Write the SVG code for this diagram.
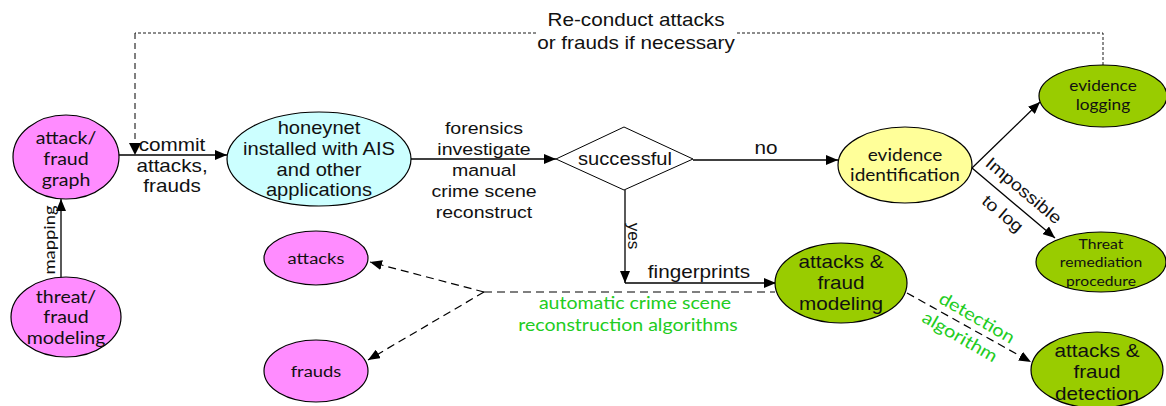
<svg xmlns="http://www.w3.org/2000/svg" width="1166" height="406" viewBox="0 0 1166 406">
  <style>
    .node { stroke: #000; stroke-width: 1.2; }
    .pink { fill: #ff8cff; }
    .cyan { fill: #ccffff; }
    .yellow { fill: #ffff99; }
    .green { fill: #99cc00; }
    .t { font-family: "Liberation Sans", Arial, sans-serif; font-size: 17px; fill: #111; text-anchor: middle; }
    .c { font-family: Lato, "Open Sans", sans-serif; font-size: 17px; fill: #111; text-anchor: middle; }
    .g { font-family: Lato, "Open Sans", sans-serif; font-size: 17.5px; fill: #22cc22; text-anchor: middle; }
    .line { fill: none; stroke: #000; stroke-width: 1.3; }
    .dash { fill: none; stroke: #000; stroke-width: 1.2; stroke-dasharray: 8 5; }
    .fine { fill: none; stroke: #000; stroke-width: 0.9; stroke-dasharray: 3 2; }
    .loose { fill: none; stroke: #000; stroke-width: 1; stroke-dasharray: 6 4; }
  </style>
  <defs>
    <marker id="arrow" viewBox="0 0 12 10" refX="12" refY="5" markerWidth="12" markerHeight="10" markerUnits="userSpaceOnUse" orient="auto">
      <path d="M0,0 L12,5 L0,10 Z" fill="#000"/>
    </marker>
  </defs>

  <!-- connectors -->
  <g id="connectors">
    <!-- re-conduct loop -->
    <path class="fine" d="M1103,65 L1103,33 L736,33 M536,33 L135,33" />
    <path class="loose" d="M135,33 L135,143" />
    <path d="M129,143 L141,143 L135,155 Z" fill="#000"/>
    <text class="t" transform="translate(636,26) scale(1.15,1)" style="font-size:18px">Re-conduct attacks</text>
    <text class="t" transform="translate(636,49) scale(1.15,1)" style="font-size:18px">or frauds if necessary</text>

    <!-- mapping -->
    <path class="line" d="M61,278 L61,199" marker-end="url(#arrow)"/>
    <text class="c" transform="translate(55,240) rotate(-90) scale(1.15,1)" style="font-size:16px">mapping</text>

    <!-- commit -->
    <path class="line" d="M119,155 L227,155" marker-end="url(#arrow)"/>
    <text class="t" transform="translate(172,151) scale(1.15,1)" style="font-size:18px">commit</text>
    <text class="t" transform="translate(172,172) scale(1.15,1)" style="font-size:18px">attacks,</text>
    <text class="t" transform="translate(172,192) scale(1.15,1)" style="font-size:18px">frauds</text>

    <!-- honeynet to decision -->
    <path class="line" d="M411,159 L556,159" marker-end="url(#arrow)"/>
    <text class="t" transform="translate(484,134) scale(1.15,1)">forensics</text>
    <text class="t" transform="translate(484,155) scale(1.15,1)">investigate</text>
    <text class="t" transform="translate(484,176) scale(1.15,1)">manual</text>
    <text class="t" transform="translate(484,197) scale(1.15,1)">crime scene</text>
    <text class="t" transform="translate(484,218) scale(1.15,1)">reconstruct</text>

    <!-- no -->
    <path class="line" d="M693,160 L838,160" marker-end="url(#arrow)"/>
    <text class="t" transform="translate(766,154) scale(1.15,1)" style="font-size:18px">no</text>

    <!-- yes -->
    <path class="line" d="M625,190 L625,283" marker-end="url(#arrow)"/>
    <text class="t" transform="translate(628,236) rotate(90)">yes</text>

    <!-- fingerprints -->
    <path class="line" d="M625,283 L776,283" marker-end="url(#arrow)"/>
    <text class="t" transform="translate(699,278) scale(1.15,1)" style="font-size:18px">fingerprints</text>

    <!-- automatic reconstruction -->
    <path d="M484,292 L775,292" fill="none" stroke="#555" stroke-width="1.3" stroke-dasharray="8 5"/>
    <path class="dash" d="M484,292 L370,262" marker-end="url(#arrow)"/>
    <path class="dash" d="M484,292 L368,360" marker-end="url(#arrow)"/>
    <text class="g" transform="translate(635,309) scale(1.15,1)" style="font-size:17px">automatic crime scene</text>
    <text class="g" transform="translate(628,331) scale(1.15,1)" style="font-size:17px">reconstruction algorithms</text>

    <!-- evidence identification branches -->
    <path class="line" d="M972,168 L1040,102" marker-end="url(#arrow)"/>
    <path class="line" d="M972,168 L1055,238" marker-end="url(#arrow)"/>
    <text class="t" transform="translate(1020,195) rotate(40) scale(1.15,1)">Impossible</text>
    <text class="t" transform="translate(999,218) rotate(40) scale(1.15,1)">to log</text>

    <!-- detection algorithm -->
    <path class="dash" d="M907,293 L1031,362" marker-end="url(#arrow)"/>
    <text class="g" transform="translate(974,323) rotate(30) scale(1.15,1)">detection</text>
    <text class="g" transform="translate(957,342) rotate(30) scale(1.15,1)">algorithm</text>
  </g>

  <!-- nodes -->
  <g id="attack-fraud-graph">
    <ellipse class="node pink" cx="66" cy="157" rx="53" ry="42"/>
    <text class="c" transform="translate(66,144) scale(1.15,1)">attack/</text>
    <text class="c" transform="translate(66,165) scale(1.15,1)">fraud</text>
    <text class="c" transform="translate(66,186) scale(1.15,1)">graph</text>
  </g>

  <g id="threat-fraud-modeling">
    <ellipse class="node pink" cx="66" cy="317" rx="55" ry="40"/>
    <text class="c" transform="translate(66,303) scale(1.15,1)">threat/</text>
    <text class="c" transform="translate(66,323) scale(1.15,1)">fraud</text>
    <text class="c" transform="translate(66,344) scale(1.15,1)">modeling</text>
  </g>

  <g id="honeynet">
    <ellipse class="node cyan" cx="319" cy="159" rx="92" ry="47"/>
    <text class="t" transform="translate(319,134) scale(1.15,1)" style="font-size:17.5px">honeynet</text>
    <text class="t" transform="translate(319,155) scale(1.15,1)" style="font-size:17.5px">installed with AIS</text>
    <text class="t" transform="translate(319,176) scale(1.15,1)" style="font-size:17.5px">and other</text>
    <text class="t" transform="translate(319,196) scale(1.15,1)" style="font-size:17.5px">applications</text>
  </g>

  <g id="successful">
    <polygon points="556,159 624,127 693,159 624,190" fill="#fff" stroke="#000" stroke-width="1"/>
    <text class="t" transform="translate(625,165) scale(1.15,1)" style="font-size:17.5px">successful</text>
  </g>

  <g id="evidence-identification">
    <ellipse class="node yellow" cx="905" cy="165" rx="67" ry="38"/>
    <text class="c" transform="translate(905,161) scale(1.12,1)">evidence</text>
    <text class="c" transform="translate(905,181) scale(1.12,1)">identification</text>
  </g>

  <g id="evidence-logging">
    <ellipse class="node green" cx="1103" cy="96" rx="64" ry="31"/>
    <text class="c" transform="translate(1103,91) scale(1.15,1)" style="font-size:15px">evidence</text>
    <text class="c" transform="translate(1103,110) scale(1.15,1)" style="font-size:15px">logging</text>
  </g>

  <g id="threat-remediation">
    <ellipse class="node green" cx="1101" cy="262" rx="65" ry="30"/>
    <text class="c" transform="translate(1101,249) scale(1.12,1)" style="font-size:14px">Threat</text>
    <text class="c" transform="translate(1101,267) scale(1.12,1)" style="font-size:14px">remediation</text>
    <text class="c" transform="translate(1101,286) scale(1.12,1)" style="font-size:14px">procedure</text>
  </g>

  <g id="attacks">
    <ellipse class="node pink" cx="316" cy="258" rx="52" ry="27"/>
    <text class="c" transform="translate(316,264) scale(1.15,1)" style="font-size:16px">attacks</text>
  </g>

  <g id="frauds">
    <ellipse class="node pink" cx="316" cy="371" rx="52" ry="31"/>
    <text class="c" transform="translate(316,377) scale(1.15,1)" style="font-size:16px">frauds</text>
  </g>

  <g id="attacks-fraud-modeling">
    <ellipse class="node green" cx="841" cy="283" rx="66" ry="40"/>
    <text class="t" transform="translate(841,268) scale(1.15,1)" style="font-size:18px">attacks &amp;</text>
    <text class="t" transform="translate(841,289) scale(1.15,1)" style="font-size:18px">fraud</text>
    <text class="t" transform="translate(841,310) scale(1.15,1)" style="font-size:18px">modeling</text>
  </g>

  <g id="attacks-fraud-detection">
    <ellipse class="node green" cx="1097" cy="370" rx="66" ry="38"/>
    <text class="t" transform="translate(1097,357) scale(1.15,1)" style="font-size:18px">attacks &amp;</text>
    <text class="t" transform="translate(1097,378) scale(1.15,1)" style="font-size:18px">fraud</text>
    <text class="t" transform="translate(1097,400) scale(1.15,1)" style="font-size:18px">detection</text>
  </g>
</svg>
